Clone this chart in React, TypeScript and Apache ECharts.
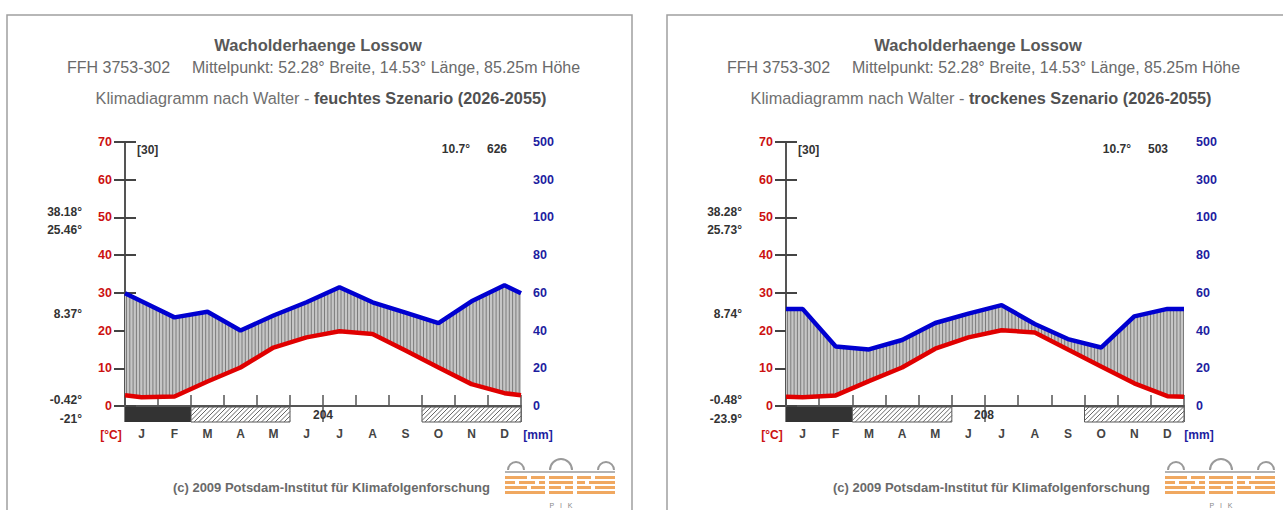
import React, { useEffect, useRef } from "react";
import * as echarts from "echarts";

// ---------- data ----------
const MONTHS = ["J", "F", "M", "A", "M", "J", "J", "A", "S", "O", "N", "D"];

// monthly mean temperature (°C)
const TEMP_WET = [2.3, 2.5, 6.5, 10.2, 15.5, 18.2, 19.8, 19.1, 14.7, 10.2, 5.8, 3.4];
const TEMP_DRY = [2.3, 2.8, 6.6, 10.2, 15.2, 18.2, 20.1, 19.5, 15.0, 10.5, 6.0, 2.6];
// monthly precipitation (mm)
const PREC_WET = [55.5, 47, 50, 40, 48, 55, 63, 55, 49.5, 44, 55.5, 64];
const PREC_DRY = [51.5, 31.5, 30, 35, 44, 49, 53.5, 43.5, 35.5, 31, 47.5, 51.5];

// frost bars: [startMonth, endMonth, kind] kind 1 = sure frost, 2 = possible frost
const FROST_WET = [[0, 2, 1], [2, 5, 2], [9, 12, 2]];
const FROST_DRY = [[0, 2, 1], [2, 5, 2], [9, 12, 2]];

const PREC_TICK_LABELS = ["0", "20", "40", "60", "80", "100", "300", "500"];

const STATS_WET = ["38.18°", "25.46°", "8.37°", "-0.42°", "-21°"];
const STATS_DRY = ["38.28°", "25.73°", "8.74°", "-0.48°", "-23.9°"];
const MEAN_WET = ["10.7°", "626"];
const MEAN_DRY = ["10.7°", "503"];
const FROSTFREE_WET = "204";
const FROSTFREE_DRY = "208";
const YEARS = "[30]";

const TITLE = "Wacholderhaenge Lossow";
const SUB_A = "FFH 3753-302";
const SUB_B = "Mittelpunkt: 52.28° Breite, 14.53° Länge, 85.25m Höhe";
const LINE3 = "Klimadiagramm nach Walter - ";
const SCEN_WET = "feuchtes Szenario (2026-2055)";
const SCEN_DRY = "trockenes Szenario (2026-2055)";
const FOOTER = "(c) 2009 Potsdam-Institut für Klimafolgenforschung";

const FONT = "'Liberation Sans', Arial, sans-serif";

// the curves run from edge to edge, closing the year (Dec -> Jan)
function withEdges(arr: number[]) {
  const e = (arr[0] + arr[11]) / 2;
  return [[0, e], ...arr.map((v, i) => [i + 0.5, v]), [12, e]];
}

function interp(pts: number[][], px: number) {
  for (let i = 0; i < pts.length - 1; i++) {
    const [x0, y0] = pts[i];
    const [x1, y1] = pts[i + 1];
    if (px >= x0 && px <= x1) return y0 + ((y1 - y0) * (px - x0)) / (x1 - x0 || 1);
  }
  return pts[pts.length - 1][1];
}

function buildPanel(
  g: number,
  temp: number[],
  prec: number[],
  frost: number[][],
  gridLeft: number,
  gridWidth: number
) {
  const tPts = withEdges(temp);
  const pPts = withEdges(prec);
  const xv = 3 * g;
  const ycat = 2 * g;
  const grid = { left: gridLeft, top: 142, width: gridWidth, height: 264 };
  const xAxes = [
    {
      gridIndex: g,
      type: "value",
      min: 0,
      max: 12,
      interval: 1,
      axisLine: { show: true, onZero: false, lineStyle: { color: "#555", width: 2 } },
      axisTick: { show: true, inside: true, length: 11, lineStyle: { color: "#555", width: 1.5 } },
      axisLabel: { show: false },
      splitLine: { show: false },
    },
    {
      gridIndex: g,
      type: "category",
      data: MONTHS,
      position: "bottom",
      boundaryGap: true,
      axisLine: { show: false },
      axisTick: { show: false },
      axisLabel: {
        color: "#444",
        fontWeight: "bold",
        fontSize: 12,
        fontFamily: FONT,
        margin: 22,
        interval: 0,
      },
    },
    {
      gridIndex: g,
      type: "value",
      min: 0,
      max: 12,
      interval: 6,
      axisLine: { show: false },
      axisTick: { show: true, inside: true, length: 16, lineStyle: { color: "#555", width: 1.5 } },
      axisLabel: { show: false },
      splitLine: { show: false },
    },
  ];
  const yAxes = [
    {
      gridIndex: g,
      type: "value",
      min: 0,
      max: 70,
      interval: 10,
      position: "left",
      axisLine: { show: true, lineStyle: { color: "#555", width: 2 } },
      axisTick: { show: true, length: 11, lineStyle: { color: "#444", width: 2 } },
      axisLabel: { color: "#cc1111", fontWeight: "bold", fontSize: 12.5, fontFamily: FONT, margin: 13 },
      splitLine: { show: false },
    },
    {
      gridIndex: g,
      type: "value",
      min: 0,
      max: 140,
      interval: 20,
      position: "right",
      axisLine: { show: true, lineStyle: { color: "#555", width: 2 } },
      axisTick: { show: true, length: 11, lineStyle: { color: "#444", width: 2 } },
      axisLabel: {
        color: "#1d1da0",
        fontWeight: "bold",
        fontSize: 12.5,
        fontFamily: FONT,
        margin: 12,
        formatter: (v: number) => PREC_TICK_LABELS[Math.round(v / 20)] ?? "",
      },
      splitLine: { show: false },
    },
  ];

  const series: any[] = [
    {
      type: "custom",
      xAxisIndex: xv,
      yAxisIndex: ycat,
      z: 1,
      clip: false,
      data: [[0, 0]],
      renderItem: (_p: any, api: any) => {
        const red = tPts.map(([x, y]) => api.coord([x, y]));
        // precipitation axis spans 0..140 over the same height as 0..70 °C
        const blue = pPts.map(([x, y]) => api.coord([x, y / 2]));
        const children: any[] = [
          {
            type: "polygon",
            shape: { points: [...blue, ...red.slice().reverse()] },
            style: { fill: "#c6c6c6", stroke: null },
          },
        ];
        const x0 = red[0][0];
        const x1 = red[red.length - 1][0];
        for (let px = x0 + 1.5; px < x1; px += 3.3) {
          const yt = interp(blue, px);
          const yb = interp(red, px);
          children.push({
            type: "line",
            shape: { x1: px, y1: yt, x2: px, y2: yb },
            style: { stroke: "#7c7c7c", lineWidth: 1 },
          });
        }
        return { type: "group", children };
      },
    },
    {
      type: "line",
      xAxisIndex: xv,
      yAxisIndex: ycat,
      data: tPts,
      showSymbol: false,
      z: 4,
      lineStyle: { color: "#e00000", width: 4.5 },
      itemStyle: { color: "#e00000" },
    },
    {
      type: "line",
      xAxisIndex: xv,
      yAxisIndex: ycat + 1,
      data: pPts,
      showSymbol: false,
      z: 4,
      lineStyle: { color: "#0000d0", width: 4.5 },
      itemStyle: { color: "#0000d0" },
    },
    {
      type: "custom",
      xAxisIndex: xv,
      yAxisIndex: ycat,
      z: 3,
      clip: false,
      data: frost,
      renderItem: (_p: any, api: any) => {
        const a = api.coord([api.value(0), 0]);
        const b = api.coord([api.value(1), 0]);
        const kind = api.value(2);
        const x = a[0];
        const y = a[1] + 1;
        const w = b[0] - a[0];
        const h = 15;
        if (kind === 1) {
          return { type: "rect", shape: { x, y, width: w, height: h }, style: { fill: "#333333" } };
        }
        const children: any[] = [
          { type: "rect", shape: { x, y, width: w, height: h }, style: { fill: "#ffffff", stroke: "#555", lineWidth: 1 } },
        ];
        for (let k = -h; k < w; k += 4.5) {
          const s0 = Math.max(0, -k);
          const s1 = Math.min(h, w - k);
          if (s1 <= s0) continue;
          children.push({
            type: "line",
            shape: { x1: x + k + s0, y1: y + h - s0, x2: x + k + s1, y2: y + h - s1 },
            style: { stroke: "#666", lineWidth: 1 },
          });
        }
        return { type: "group", children };
      },
    },
  ];
  return { grid, xAxes, yAxes, series };
}

function textEl(x: number, y: number, text: string, opts: any = {}) {
  return {
    type: "text",
    x,
    y,
    z: 10,
    style: {
      text,
      fontFamily: FONT,
      fontSize: opts.size ?? 12,
      fontWeight: opts.bold ? "bold" : "normal",
      fill: opts.color ?? "#333",
      align: opts.align ?? "left",
      verticalAlign: "middle",
    },
  };
}

function logo(x0: number, y0: number) {
  const els: any[] = [];
  const arcs = [
    [x0 + 11, 8],
    [x0 + 56, 11],
    [x0 + 101, 8],
  ];
  arcs.forEach(([cx, r]) => {
    els.push({
      type: "arc",
      shape: { cx, cy: y0 + 10, r, startAngle: Math.PI, endAngle: 2 * Math.PI },
      style: { stroke: "#9a9a9a", lineWidth: 2, fill: null },
    });
  });
  els.push({
    type: "line",
    shape: { x1: x0, y1: y0 + 12, x2: x0 + 110, y2: y0 + 12 },
    style: { stroke: "#9a9a9a", lineWidth: 1.5 },
  });
  const rows = [
    [[0, 22], [26, 40], [44, 68], [72, 86], [90, 110]],
    [[0, 10], [14, 30], [34, 40], [44, 68], [72, 80], [84, 110]],
    [[0, 22], [26, 40], [44, 56], [60, 68], [72, 86], [90, 110]],
    [[0, 40], [44, 68], [72, 110]],
  ];
  rows.forEach((segs, i) => {
    segs.forEach(([a, b]) => {
      els.push({
        type: "rect",
        shape: { x: x0 + a, y: y0 + 16 + i * 5, width: b - a, height: 3 },
        style: { fill: "#f0a860" },
      });
    });
  });
  els.push(textEl(x0 + 56, y0 + 45, "P   I   K", { size: 7, color: "#888", align: "center" }));
  return els;
}

function panelGraphics(off: number, plotOff: number, scen: string, stats: string[], mean: string[], frostFree: string, boxW: number) {
  const els: any[] = [];
  els.push({
    type: "rect",
    shape: { x: 7 + off, y: 15, width: boxW, height: 540 },
    style: { fill: null, stroke: "#a0a0a0", lineWidth: 1.5 },
    z: 0,
  });
  els.push(textEl(318 + off, 45, TITLE, { size: 16.5, bold: true, color: "#585858", align: "center" }));
  els.push(textEl(67 + off, 67, SUB_A, { size: 16, color: "#6a6a6a" }));
  els.push(textEl(192 + off, 67, SUB_B, { size: 16, color: "#6a6a6a" }));
  els.push({
    type: "text",
    x: 321 + off,
    y: 98,
    z: 10,
    style: {
      text: `{n|${LINE3}}{b|${scen}}`,
      align: "center",
      verticalAlign: "middle",
      rich: {
        n: { fontFamily: FONT, fontSize: 16.3, fill: "#707070" },
        b: { fontFamily: FONT, fontSize: 16.3, fontWeight: "bold", fill: "#505050" },
      },
    },
  });
  const ys = [212, 230, 314, 400, 419];
  stats.forEach((s, i) => els.push(textEl(82 + off, ys[i], s, { bold: true, align: "right", color: "#333" })));
  els.push(textEl(137 + plotOff, 150, YEARS, { bold: true, color: "#333" }));
  els.push(textEl(470 + plotOff, 149, mean[0], { bold: true, color: "#333", align: "right" }));
  els.push(textEl(507 + plotOff, 149, mean[1], { bold: true, color: "#333", align: "right" }));
  els.push(textEl(323 + plotOff, 415, frostFree, { bold: true, color: "#333", align: "center" }));
  els.push(textEl(111 + plotOff, 435, "[°C]", { bold: true, color: "#cc1111", align: "center" }));
  els.push(textEl(538 + plotOff, 435, "[mm]", { bold: true, color: "#1d1da0", align: "center" }));
  els.push(textEl(490 + off, 487, FOOTER, { size: 13, bold: true, color: "#6a6a6a", align: "right" }));
  els.push(...logo(505 + off, 460));
  return els;
}

export default function App() {
  const ref = useRef<HTMLDivElement>(null);
  useEffect(() => {
    if (!ref.current) return;
    const chart = echarts.init(ref.current, undefined, { renderer: "svg" });
    const p0 = buildPanel(0, TEMP_WET, PREC_WET, FROST_WET, 125, 396);
    const p1 = buildPanel(1, TEMP_DRY, PREC_DRY, FROST_DRY, 786, 398);
    chart.setOption({
      animation: false,
      backgroundColor: "#ffffff",
      grid: [p0.grid, p1.grid],
      xAxis: [...p0.xAxes, ...p1.xAxes],
      yAxis: [...p0.yAxes, ...p1.yAxes],
      series: [...p0.series, ...p1.series],
      graphic: [
        ...panelGraphics(0, 0, SCEN_WET, STATS_WET, MEAN_WET, FROSTFREE_WET, 625),
        ...panelGraphics(660, 661, SCEN_DRY, STATS_DRY, MEAN_DRY, FROSTFREE_DRY, 640),
      ],
    });
    return () => chart.dispose();
  }, []);
  return (
    <div
      ref={ref}
      style={{ position: "absolute", left: 0, top: 0, width: 1283, height: 510 }}
    />
  );
}
